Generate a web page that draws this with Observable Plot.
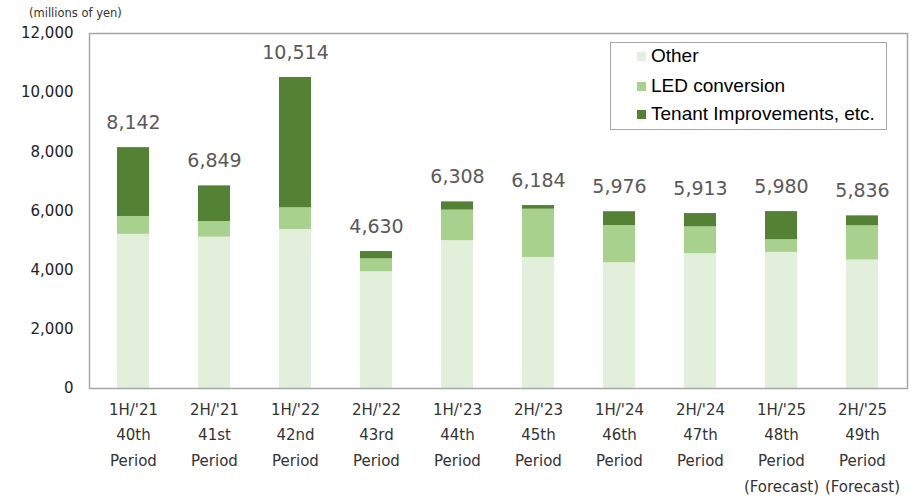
<!DOCTYPE html>
<html><head><meta charset="utf-8">
<script src="https://cdn.jsdelivr.net/npm/d3@7"></script>
<script src="https://cdn.jsdelivr.net/npm/@observablehq/plot@0.6"></script>
<style>
body{margin:0;background:#fff;}
#wrap{position:relative;width:920px;height:498px;font-family:"DejaVu Sans",sans-serif;}
#unit{position:absolute;left:29px;top:8px;font-size:11.5px;line-height:1;color:#333;}
#legend{position:absolute;left:610px;top:42px;width:275px;height:86px;border:1.5px solid #a6a6a6;background:#fff;font-family:"Liberation Sans",Arial,sans-serif;font-size:19px;color:#000;}
#legend .row{position:absolute;left:26px;height:20px;line-height:20px;white-space:nowrap;}
#legend .sw{display:inline-block;width:9px;height:9px;margin-right:5px;vertical-align:1px;}
</style></head><body>
<div id="wrap"><div id="unit">(millions of yen)</div><div id="legend"></div></div>
<script>
const periods = ["1H/'21\n40th\nPeriod", "2H/'21\n41st\nPeriod", "1H/'22\n42nd\nPeriod", "2H/'22\n43rd\nPeriod", "1H/'23\n44th\nPeriod", "2H/'23\n45th\nPeriod", "1H/'24\n46th\nPeriod", "2H/'24\n47th\nPeriod", "1H/'25\n48th\nPeriod\n(Forecast)", "2H/'25\n49th\nPeriod\n(Forecast)"];
const series = ["Other", "LED conversion", "Tenant Improvements, etc."];
const colors = ["#e2efda", "#a9d18e", "#548235"];
const other  = [5210, 5115, 5375, 3945, 5000, 4430, 4250, 4555, 4600, 4340];
const led    = [605, 530, 733, 440, 1030, 1630, 1260, 910, 430, 1160];
const tenant = [2327, 1204, 4406, 245, 278, 124, 466, 448, 950, 336];
const totals = [8142, 6849, 10514, 4630, 6308, 6184, 5976, 5913, 5980, 5836];
const yTicks = [0, 2000, 4000, 6000, 8000, 10000, 12000];

const seriesValues = [other, led, tenant];
const rows = [];
periods.forEach((p, i) => seriesValues.forEach((vals, s) => rows.push({period: p, series: series[s], value: vals[i]})));
const totalRows = periods.map((p, i) => ({period: p, total: totals[i]}));
const fmt = d3.format(",d");

const chart = Plot.plot({
  width: 920, height: 498,
  marginLeft: 89, marginRight: 13, marginTop: 33, marginBottom: 110,
  style: {fontFamily: "DejaVu Sans, sans-serif", background: "transparent"},
  x: {domain: periods, paddingInner: 0.6, paddingOuter: 0.3},
  y: {domain: [0, 12000]},
  color: {domain: series, range: colors},
  marks: [
    Plot.barY(rows, {x: "period", y: "value", fill: "series"}),
    Plot.frame({stroke: "#a6a6a6", strokeWidth: 1.5}),
    Plot.text(totalRows, {x: "period", y: "total", text: d => fmt(d.total), lineAnchor: "bottom", dy: -18.5, fontSize: 19, fill: "#595959"}),
    Plot.axisY({ticks: yTicks, tickFormat: fmt, tickSize: 0, tickPadding: 16, fontSize: 15, color: "#222", label: null}),
    Plot.axisX({tickSize: 0, tickPadding: 8, fontSize: 15, lineHeight: 1.71, color: "#333", label: null})
  ]
});
document.getElementById("wrap").prepend(chart);

const legend = document.getElementById("legend");
const rowTops = [3, 33, 61];
series.forEach((s, i) => {
  const r = document.createElement("div");
  r.className = "row";
  r.style.top = rowTops[i] + "px";
  r.innerHTML = `<span class="sw" style="background:${colors[i]}"></span>${s}`;
  legend.appendChild(r);
});
</script>
</body></html>
